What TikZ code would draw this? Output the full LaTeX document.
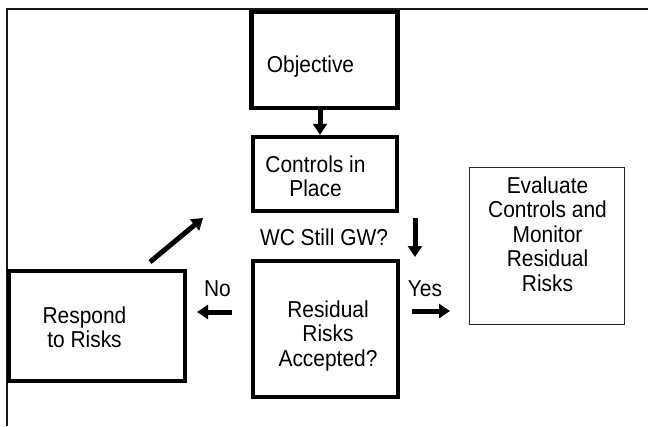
\documentclass[tikz,border=0pt]{standalone}
\usepackage{fontspec}
\setmainfont[FakeStretch=0.91]{Liberation Sans}
\usetikzlibrary{arrows.meta}
\begin{document}
\begin{tikzpicture}[x=1pt,y=-1pt,
  thickbox/.style={draw=black,line width=4.5pt,fill=white,inner sep=0pt},
  thinbox/.style={draw=black!85,line width=1pt,fill=white,inner sep=0pt},
  txt/.style={align=center,inner sep=0pt,font=\fontsize{23}{24.5}\selectfont},
  bigarrow/.style={line width=5pt,-{Triangle[width=14pt,length=11pt]}}]
\useasboundingbox (0,0) rectangle (648,426);
\draw[line width=1.5pt,black!90] (7,426) -- (7,9) -- (648,9);
% boxes
\node[thickbox,minimum width=146pt,minimum height=96pt] (obj) at (324.5,60) {};
\node[thickbox,minimum width=144pt,minimum height=74pt] (ctrl) at (325,174) {};
\node[thickbox,minimum width=145pt,minimum height=136pt] (res) at (325.5,329) {};
\node[thickbox,minimum width=176pt,minimum height=110pt] (resp) at (97,326) {};
\node[thinbox,minimum width=155pt,minimum height=157pt] (eval) at (547,246) {};
% texts
\node[txt,anchor=base] (tobj) at (310.5,72.5) {Objective};
\node[txt,anchor=north] (tctrl) at (315.5,155.2) {Controls in\\Place};
\node[txt,anchor=north] (tres) at (328,300.2) {Residual\\Risks\\Accepted?};
\node[txt,anchor=north] (tresp) at (84.5,306.5) {Respond\\to Risks};
\node[txt,anchor=north] (teval) at (547.5,176.5) {Evaluate\\Controls and\\Monitor\\Residual\\Risks};
\node[txt,anchor=base] (wc) at (324,245.5) {WC Still GW?};
\node[txt,anchor=base] (no) at (217.5,296.7) {No};
\node[txt,anchor=base] (yes) at (425,296.7) {Yes};
% arrow end points
\coordinate (d1) at (415,218);
\coordinate (d2) at (415,257);
\coordinate (n1) at (232,312);
\coordinate (n2) at (197,312);
\coordinate (y1) at (412,311);
\coordinate (y2) at (450,311);
\coordinate (g1) at (150,262);
\coordinate (g2) at (203,218);
% arrows
\draw[bigarrow] ([xshift=-4.5pt]obj.south) -- ([xshift=-5pt]ctrl.north);
\draw[bigarrow] (d1) -- (d2);
\draw[bigarrow] (n1) -- (n2);
\draw[bigarrow] (y1) -- (y2);
\draw[bigarrow] (g1) -- (g2);
\end{tikzpicture}
\end{document}
